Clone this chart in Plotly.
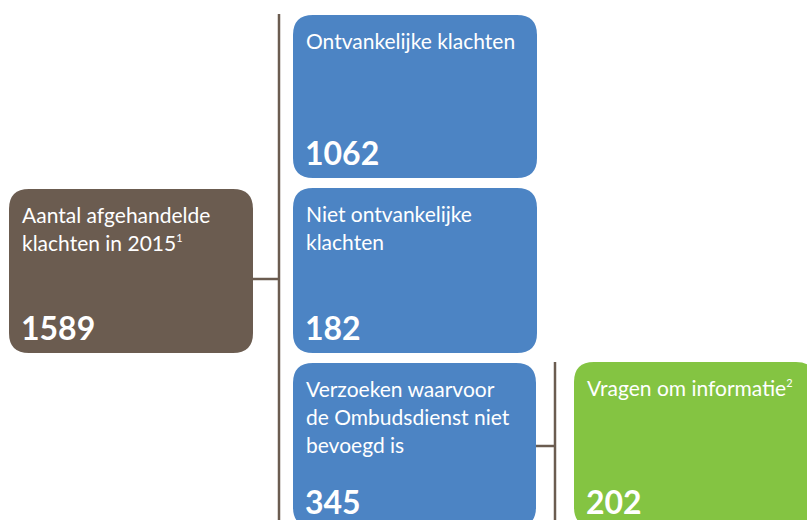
import plotly.graph_objects as go

# Diagram content
SUP = "<sup><span style='font-size:11px'>{}</span></sup>"
labels = [
    "Aantal afgehandelde<br>klachten in 2015" + SUP.format(1),
    "Ontvankelijke klachten",
    "Niet ontvankelijke<br>klachten",
    "Verzoeken waarvoor<br>de Ombudsdienst niet<br>bevoegd is",
    "Vragen om informatie" + SUP.format(2),
]
counts = [1589, 1062, 182, 345, 202]
colors = ["#6b5c50", "#4c84c4", "#4c84c4", "#4c84c4", "#84c442"]

# box geometry (x0, y0, x1, y1) in pixels, y downward
boxes = [
    (9, 189, 253, 353),
    (293, 15, 537, 178),
    (293, 188, 537, 353),
    (293, 363, 536, 527),
    (574, 362, 816, 527),
]

LINE = "#6b5c50"
W, H = 807, 520


def rounded_rect(x0, y0, x1, y1, r=20):
    return (f"M {x0+r},{y0} L {x1-r},{y0} Q {x1},{y0} {x1},{y0+r} "
            f"L {x1},{y1-r} Q {x1},{y1} {x1-r},{y1} "
            f"L {x0+r},{y1} Q {x0},{y1} {x0},{y1-r} "
            f"L {x0},{y0+r} Q {x0},{y0} {x0+r},{y0} Z")


fig = go.Figure()
fig.add_trace(go.Scatter(x=[0, W], y=[0, H], mode="markers",
                         marker=dict(opacity=0), hoverinfo="skip",
                         showlegend=False))

shapes = []
# connector lines
for (x0, y0, x1, y1) in [(279, 14, 279, 520), (253, 279, 279, 279),
                         (555, 362, 555, 520), (536, 446, 555, 446)]:
    shapes.append(dict(type="line", x0=x0, y0=y0, x1=x1, y1=y1,
                       xref="x", yref="y", line=dict(color=LINE, width=2.5)))

annotations = []
for lab, n, col, (x0, y0, x1, y1) in zip(labels, counts, colors, boxes):
    shapes.append(dict(type="path", path=rounded_rect(x0, y0, x1, y1),
                       xref="x", yref="y", fillcolor=col, line=dict(width=0),
                       layer="above"))
    for i, line in enumerate(lab.split("<br>")):
        annotations.append(dict(x=x0 + 11, y=y0 + 25 + i * 28, xref="x", yref="y",
                                text=line, showarrow=False, xanchor="left",
                                yanchor="middle",
                                font=dict(family="Lato", size=21, color="white")))
    annotations.append(dict(x=x0 + 10, y=y1 - 26, xref="x", yref="y",
                            text=f"<b>{n}</b>", showarrow=False, xanchor="left",
                            yanchor="middle",
                            font=dict(family="Lato", size=32, color="white")))

fig.update_layout(
    width=W, height=H,
    margin=dict(l=0, r=0, t=0, b=0),
    paper_bgcolor="white", plot_bgcolor="white",
    xaxis=dict(range=[0, W], visible=False, fixedrange=True),
    yaxis=dict(range=[H, 0], visible=False, fixedrange=True),
    shapes=shapes, annotations=annotations,
    showlegend=False,
)

fig.write_html("out.html", config={"displayModeBar": False},
               post_script="document.body.style.margin='0';"
                           "document.body.style.overflow='hidden';")
